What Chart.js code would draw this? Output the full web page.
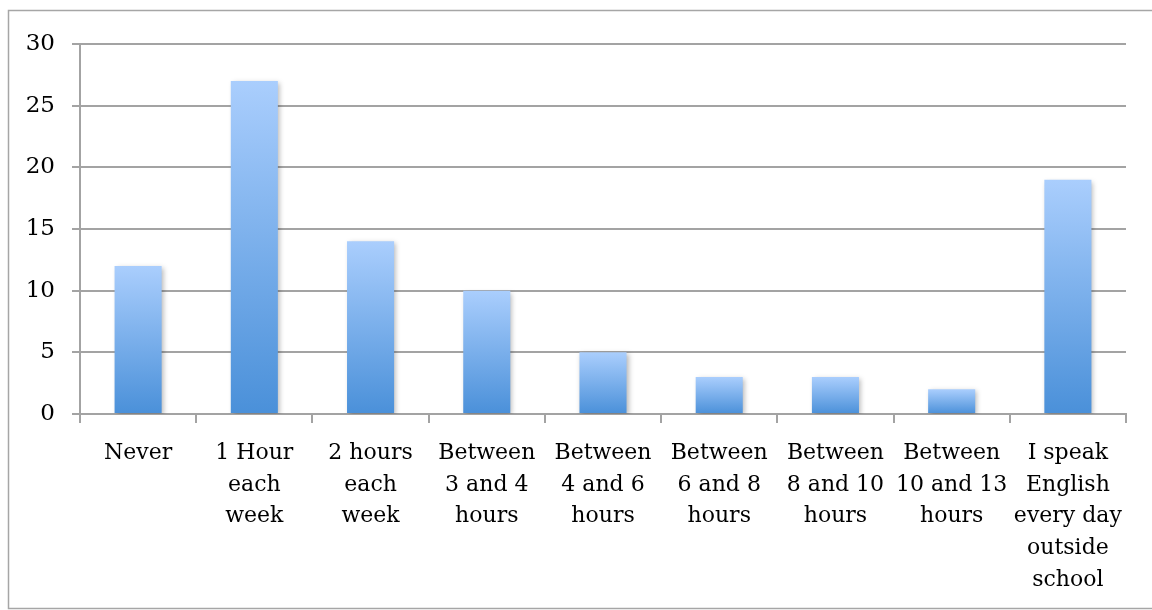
<!DOCTYPE html>
<html>
<head>
<meta charset="utf-8">
<script src="https://cdn.jsdelivr.net/npm/chart.js@4.4.0/dist/chart.umd.min.js"></script>
<style>
  html, body { margin: 0; padding: 0; background: #fff; }
  #wrap { width: 1152px; height: 610px; position: relative; }
</style>
</head>
<body>
<div id="wrap"><canvas id="chart"></canvas></div>
<script>
const categories = [
  'Never',
  ['1 Hour', 'each', 'week'],
  ['2 hours', 'each', 'week'],
  ['Between', '3 and 4', 'hours'],
  ['Between', '4 and 6', 'hours'],
  ['Between', '6 and 8', 'hours'],
  ['Between', '8 and 10', 'hours'],
  ['Between', '10 and 13', 'hours'],
  ['I speak', 'English', 'every day', 'outside', 'school']
];
const counts = [12, 27, 14, 10, 5, 3, 3, 2, 19];
const yTicks = [0, 5, 10, 15, 20, 25, 30];

const gridColor = '#a3a3a3';
const fontFamily = '"DejaVu Serif", "Liberation Serif", serif';

// frame round the whole picture
const framePlugin = {
  id: 'frame',
  beforeDraw(chart) {
    const ctx = chart.ctx;
    ctx.save();
    ctx.strokeStyle = '#a6a6a6';
    ctx.lineWidth = 1.5;
    ctx.beginPath();
    ctx.moveTo(chart.width, 10.5);
    ctx.lineTo(8.5, 10.5);
    ctx.lineTo(8.5, 608.5);
    ctx.lineTo(chart.width, 608.5);
    ctx.stroke();
    ctx.restore();
  }
};

// soft shadow behind bars
const shadowPlugin = {
  id: 'barShadow',
  beforeDatasetsDraw(chart) {
    const ctx = chart.ctx;
    ctx.save();
    ctx.shadowColor = 'rgba(0,0,0,0.28)';
    ctx.shadowBlur = 5;
    ctx.shadowOffsetX = 2;
    ctx.shadowOffsetY = 2;
  },
  afterDatasetsDraw(chart) {
    chart.ctx.restore();
  }
};

function barGradient(context) {
  const chart = context.chart;
  const area = chart.chartArea;
  if (!area) return '#7fb0ee';
  const y = chart.scales.y;
  const v = context.raw;
  const top = y.getPixelForValue(v);
  const bottom = y.getPixelForValue(0);
  const g = chart.ctx.createLinearGradient(0, top, 0, bottom);
  g.addColorStop(0, '#aacefd');
  g.addColorStop(1, '#4a90d9');
  return g;
}

new Chart(document.getElementById('chart'), {
  type: 'bar',
  data: {
    labels: categories,
    datasets: [{
      data: counts,
      backgroundColor: barGradient,
      borderWidth: 0,
      categoryPercentage: 1,
      barPercentage: 0.405
    }]
  },
  options: {
    responsive: true,
    maintainAspectRatio: false,
    animation: false,
    layout: { padding: { top: 44, right: 26, left: 0, bottom: 0 } },
    plugins: {
      legend: { display: false },
      tooltip: { enabled: false }
    },
    scales: {
      x: {
        offset: true,
        afterFit: s => { s.height = 196; },
        grid: {
          offset: true,
          drawOnChartArea: false,
          drawTicks: true,
          tickLength: 9,
          color: gridColor,
          lineWidth: 2
        },
        border: { color: gridColor, width: 2 },
        ticks: {
          color: '#000',
          maxRotation: 0,
          autoSkip: false,
          padding: 14,
          font: { family: fontFamily, size: 22, lineHeight: 1.45 }
        }
      },
      y: {
        min: 0,
        max: 30,
        afterFit: s => { s.width = 80; },
        afterBuildTicks: s => { s.ticks = yTicks.map(v => ({ value: v })); },
        grid: {
          color: gridColor,
          lineWidth: 2,
          drawTicks: true,
          tickLength: 8
        },
        border: { color: gridColor, width: 2 },
        ticks: {
          color: '#000',
          padding: 17,
          font: { family: fontFamily, size: 23 }
        }
      }
    }
  },
  plugins: [framePlugin, shadowPlugin]
});
</script>
</body>
</html>
